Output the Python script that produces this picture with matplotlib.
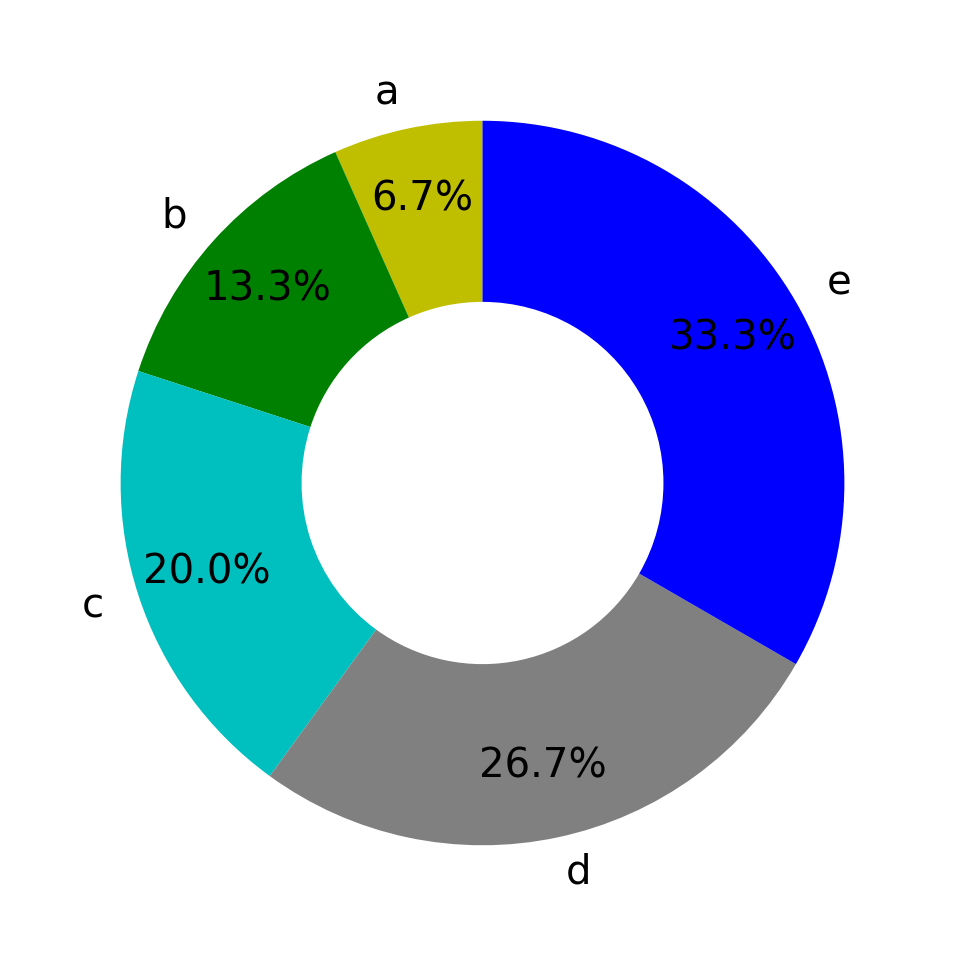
import matplotlib.pyplot as plt

labels = ['a', 'b', 'c', 'd', 'e']
sizes = [1, 2, 3, 4, 5]
colors = ['y', 'g', 'c', 'grey', 'b']

fig = plt.figure(figsize=(9.65, 9.66), dpi=100)
ax = fig.add_axes([0.0875, 0.0875, 0.825, 0.825])
ax.pie(sizes, labels=labels, colors=colors, autopct='%1.1f%%',
       startangle=90, pctdistance=0.8, labeldistance=1.1,
       wedgeprops=dict(width=0.5), textprops=dict(fontsize=29))
ax.axis('equal')
fig.savefig('out.png', dpi=100)
